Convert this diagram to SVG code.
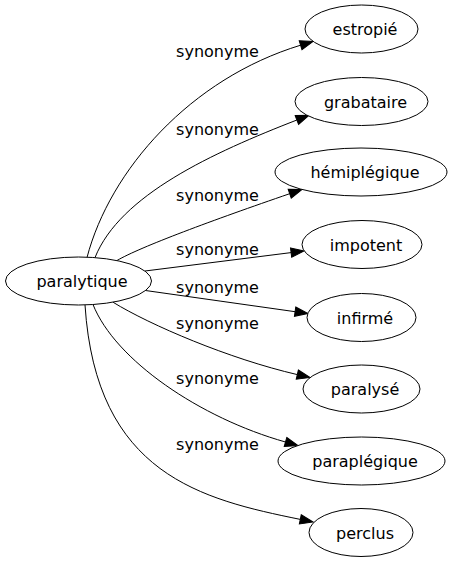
<svg xmlns="http://www.w3.org/2000/svg" width="454" height="563" viewBox="0 0 454 563">
<style>
  .node ellipse { fill: #ffffff; stroke: #000000; stroke-width: 1; }
  .node text { font-family: "DejaVu Sans", Verdana, sans-serif; font-size: 16px; fill: #000000; text-anchor: middle; }
  .edges path { fill: none; stroke: #000000; stroke-width: 1; marker-end: url(#arr); }
  .edges text { font-family: "DejaVu Sans", Verdana, sans-serif; font-size: 16px; fill: #000000; text-anchor: middle; }
</style>
<defs>
  <marker id="arr" markerUnits="userSpaceOnUse" markerWidth="14" markerHeight="10" refX="0" refY="5" orient="auto" overflow="visible">
    <path d="M0,0.3 L13,5 L0,9.7 z" fill="#000000" stroke="#000000" stroke-width="1"/>
  </marker>
</defs>
<rect width="454" height="563" fill="#ffffff"/>
<g id="edges" class="edges">
  <path d="M87,257.5 C110,170 190.5,78.7 300.6,45.2"/>
  <text x="217.5" y="57">synonyme</text>
  <path d="M95,257.6 C120,195 213,152.6 296.9,120"/>
  <text x="217.5" y="135">synonyme</text>
  <path d="M117,260.5 C140,247 214,219.7 289.7,193.7"/>
  <text x="217.5" y="201">synonyme</text>
  <path d="M145,271 C193.7,264.9 242.4,258.7 291.1,252.6"/>
  <text x="217.5" y="255">synonyme</text>
  <path d="M145.5,290.5 C195,297.5 245,304.6 295.1,311.7"/>
  <text x="217.5" y="293">synonyme</text>
  <path d="M113,302.2 C150,325 229.1,358.8 297.3,374.6"/>
  <text x="217.5" y="329">synonyme</text>
  <path d="M93,304.5 C115,360 200,418 285.5,442"/>
  <text x="217.5" y="384">synonyme</text>
  <path d="M85,304.9 C96,475 202.3,499.4 300.3,519.4"/>
  <text x="217.5" y="450">synonyme</text>
</g>
<g id="node-paralytique" class="node">
  <ellipse cx="78.5" cy="281" rx="73" ry="24"/>
  <text x="82" y="287">paralytique</text>
</g>
<g id="node-estropie" class="node">
  <ellipse cx="361.5" cy="29" rx="56.5" ry="24"/>
  <text x="365" y="35">estropié</text>
</g>
<g id="node-grabataire" class="node">
  <ellipse cx="361.5" cy="101.5" rx="66.5" ry="24"/>
  <text x="365.5" y="107.5">grabataire</text>
</g>
<g id="node-hemiplegique" class="node">
  <ellipse cx="361" cy="172" rx="86" ry="24"/>
  <text x="365" y="178">hémiplégique</text>
</g>
<g id="node-impotent" class="node">
  <ellipse cx="362" cy="244.5" rx="60" ry="24"/>
  <text x="366" y="250.5">impotent</text>
</g>
<g id="node-infirme" class="node">
  <ellipse cx="361.5" cy="317.5" rx="54.5" ry="24"/>
  <text x="365" y="323.5">infirmé</text>
</g>
<g id="node-paralyse" class="node">
  <ellipse cx="361.5" cy="389" rx="58.5" ry="24"/>
  <text x="365" y="395">paralysé</text>
</g>
<g id="node-paraplegique" class="node">
  <ellipse cx="361.5" cy="461" rx="83.5" ry="24"/>
  <text x="365" y="467">paraplégique</text>
</g>
<g id="node-perclus" class="node">
  <ellipse cx="361" cy="532.5" rx="52" ry="24"/>
  <text x="365" y="538.5">perclus</text>
</g>
</svg>
